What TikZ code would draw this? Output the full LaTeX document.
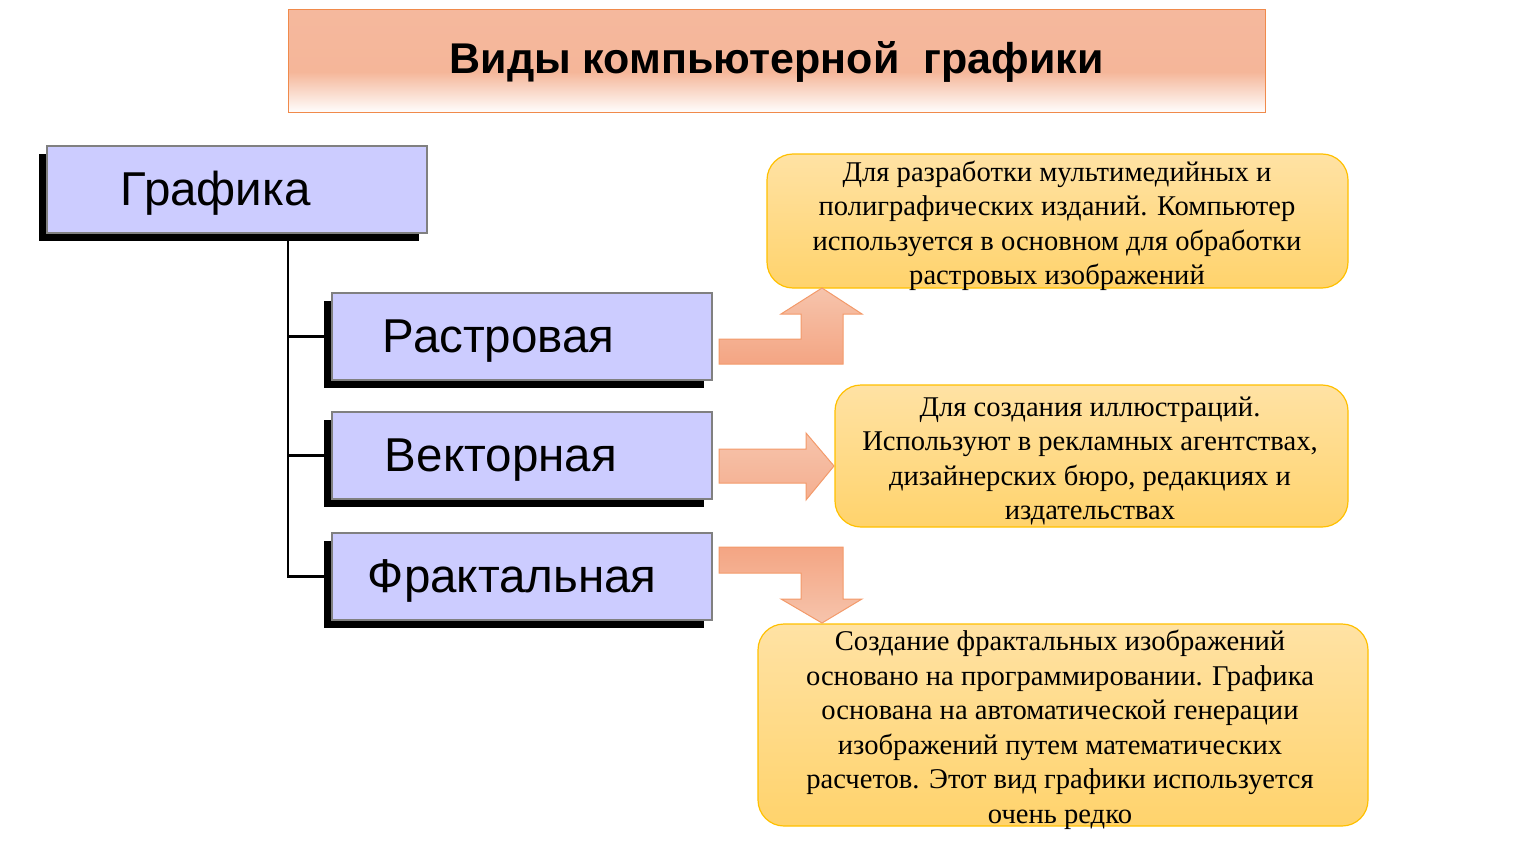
\documentclass[tikz,border=0pt]{standalone}
\usepackage{fontspec}
\setmainfont{Liberation Serif}
\setsansfont{Liberation Sans}
\usetikzlibrary{shadows,calc}
\definecolor{lav}{HTML}{CCCCFF}
\definecolor{boxgray}{HTML}{808080}
\definecolor{titletop}{HTML}{F5B89D}
\definecolor{titlemid}{HTML}{F5B699}
\definecolor{titleedge}{HTML}{F08A4B}
\definecolor{ytop}{HTML}{FFE2A4}
\definecolor{ybot}{HTML}{FFD36C}
\definecolor{yedge}{HTML}{FFC000}
\definecolor{atop}{HTML}{F6C4AC}
\definecolor{abot}{HTML}{F4A583}
\definecolor{aedge}{HTML}{F39A6A}
\pgfdeclareverticalshading{titleshade}{100bp}{color(0bp)=(white); color(25bp)=(white); color(45bp)=(titlemid); color(75bp)=(titletop); color(100bp)=(titletop)}
\begin{document}
\begin{tikzpicture}[x=1pt,y=-1pt,
  titlebox/.style={draw=titleedge, line width=1pt, shading=titleshade,
    minimum width=977pt, minimum height=103pt, inner sep=0pt,
    font=\sffamily\bfseries\fontsize{43}{48}\selectfont},
  catbox/.style={draw=boxgray, line width=2.5pt, fill=lav, minimum width=380pt, minimum height=87pt, inner sep=0pt,
    general shadow={fill=black, shadow xshift=-8pt, shadow yshift=-8pt}},
  catlabel/.style={anchor=base west, inner sep=0pt, font=\sffamily\fontsize{47.5}{52}\selectfont},
  infobox/.style={draw=yedge, line width=1.2pt, rounded corners=26pt, top color=ytop, bottom color=ybot,
    inner sep=0pt, align=center},
  infotext/.style={align=center, font=\fontsize{28.6}{34.5}\selectfont, inner sep=0pt},
  tree/.style={line width=2.5pt, black},
  bigarrow/.style={draw=aedge, line width=1pt, line join=miter}
]
\useasboundingbox (0,0) rectangle (1533,864);

% title
\node[titlebox] (title) at (776.5,61.5) {Виды компьютерной\ \ графики};

% category boxes
\node[catbox] (g) at (237,189.5) {};
\node[catbox] (r) at (522,336.5) {};
\node[catbox] (v) at (522,455.5) {};
\node[catbox] (f) at (522,576.5) {};

\node[catlabel] (gl) at ($(g.west)+(75,16)$) {Графика};
\node[catlabel] (rl) at ($(r.west)+(52,16)$) {Растровая};
\node[catlabel] (vl) at ($(v.west)+(54,16)$) {Векторная};
\node[catlabel] (fl) at ($(f.west)+(37,16)$) {Фрактальная};

% tree connectors
\coordinate (t0) at ($(g.south west)+(242,0)$);
\draw[tree] (t0) |- ($(f.west)+(-7,0)$);
\draw[tree] (t0) |- ($(r.west)+(-7,0)$);
\draw[tree] (t0) |- ($(v.west)+(-7,0)$);

% info boxes
\node[infobox, minimum width=581pt, minimum height=134pt] (i1) at (1057.5,221) {};
\node[infobox, minimum width=513pt, minimum height=142pt] (i2) at (1091.5,456) {};
\node[infobox, minimum width=610pt, minimum height=202pt] (i3) at (1063,725) {};

\node[infotext] (i1t) at (1057,226)
 {Для разработки мультимедийных и\\полиграфических изданий. Компьютер\\используется в основном для обработки\\растровых изображений};
\node[infotext] (i2t) at (1090,461)
 {Для создания иллюстраций.\\Используют в рекламных агентствах,\\дизайнерских бюро, редакциях и\\издательствах};
\node[infotext] (i3t) at (1060,730)
 {Создание фрактальных изображений\\основано на программировании. Графика\\основана на автоматической генерации\\изображений путем математических\\расчетов. Этот вид графики используется\\очень редко};

% arrows
\shade[bigarrow, top color=atop, bottom color=abot] (719,339) -- (801,339) -- (801,314) -- (781,314) -- (822,288) -- (862,314) -- (843,314) -- (843,364) -- (719,364) -- cycle;
\shade[bigarrow, top color=atop, bottom color=abot!70!atop] (719,449) -- (806,449) -- (806,433) -- (834,466) -- (806,500) -- (806,483) -- (719,483) -- cycle;
\shade[bigarrow, top color=abot, bottom color=atop] (719,547) -- (843,547) -- (843,599) -- (862,599) -- (822,623) -- (781,599) -- (801,599) -- (801,573) -- (719,573) -- cycle;
\end{tikzpicture}
\end{document}
